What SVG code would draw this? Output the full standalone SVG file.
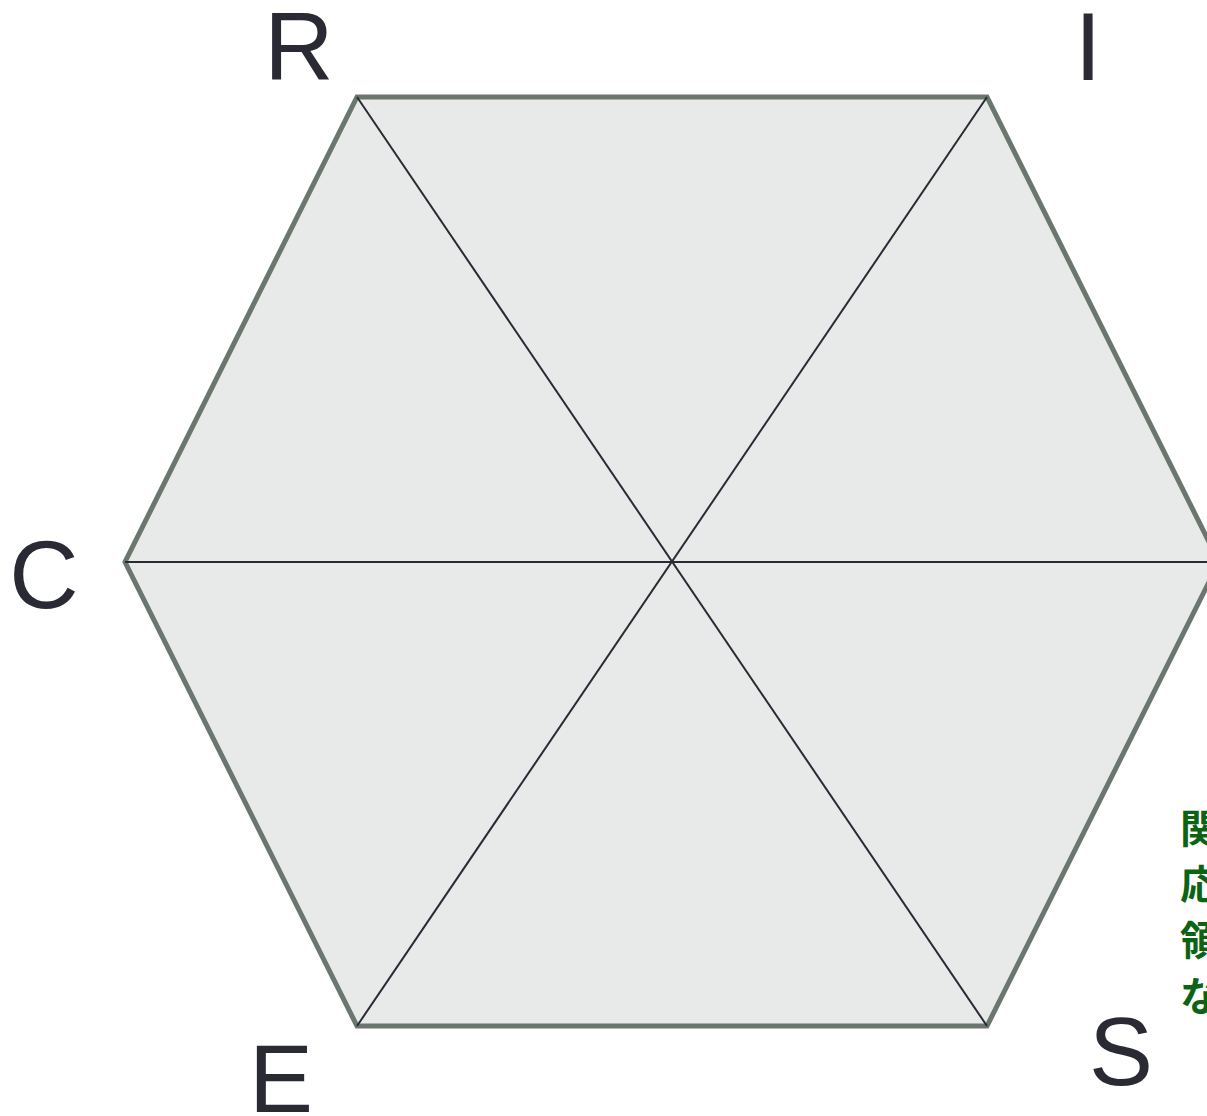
<svg xmlns="http://www.w3.org/2000/svg" width="1207" height="1116" viewBox="0 0 1207 1116">
<style>
.lbl{font-family:"Liberation Sans",Arial,sans-serif;font-size:96px;fill:#2a2a35;text-anchor:middle}
.jp{font-family:"Noto Sans CJK JP",sans-serif;font-size:40px;font-weight:bold;fill:#0b6413}
.spoke{stroke:#2a2a35;stroke-width:2;fill:none}
</style>
<rect width="1207" height="1116" fill="#ffffff"/>
<g id="hexagon">
<polygon points="357,97 987,97 1219,562 987,1026 357,1026 125,562" fill="#e8eaea" stroke="#6b776e" stroke-width="5" stroke-linejoin="miter"/>
</g>
<g id="connectors">
<line class="spoke" x1="357" y1="97" x2="987" y2="1026"/>
<line class="spoke" x1="987" y1="97" x2="357" y2="1026"/>
<line class="spoke" x1="125" y1="562" x2="1219" y2="562"/>
</g>
<g id="node-R"><text class="lbl" x="299" y="80">R</text></g>
<g id="node-I"><text class="lbl" x="1088" y="80">I</text></g>
<g id="node-C"><text class="lbl" x="44" y="608">C</text></g>
<g id="node-E"><text class="lbl" x="281" y="1112">E</text></g>
<g id="node-S"><text class="lbl" x="1121" y="1085">S</text></g>
<g id="note">
<text class="jp" x="1180" y="843">関</text>
<text class="jp" x="1180" y="899">応</text>
<text class="jp" x="1180" y="955">領</text>
<text class="jp" x="1180" y="1011">な</text>
</g>
</svg>
